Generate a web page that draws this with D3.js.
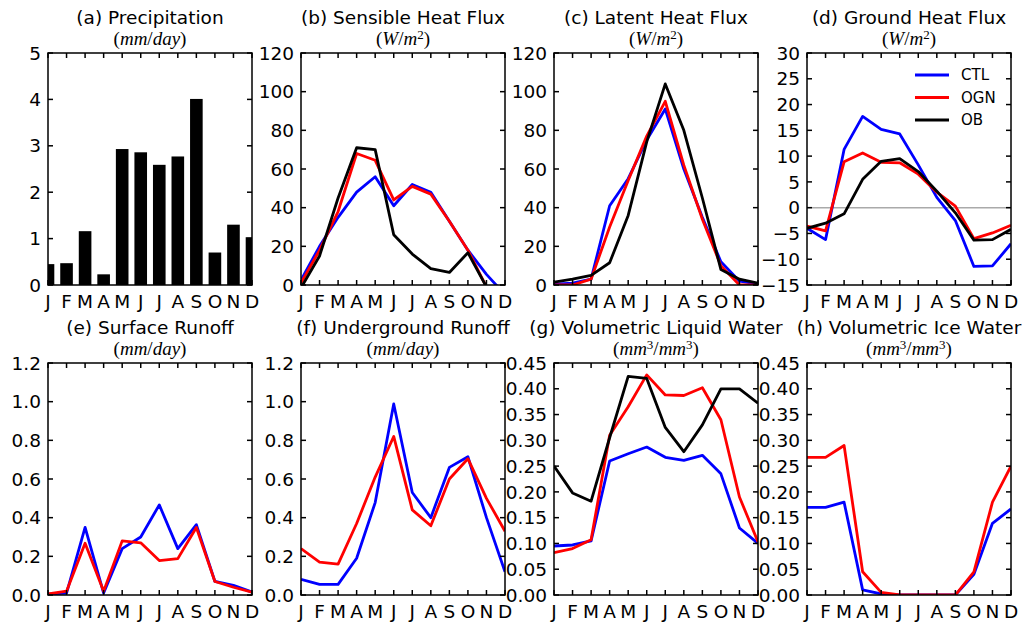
<!DOCTYPE html>
<html>
<head>
<meta charset="utf-8">
<script src="https://d3js.org/d3.v7.min.js"></script>
<style>
 body {margin:0; background:#fff;}
 svg {display:block;}
 text {font-family: "DejaVu Sans", sans-serif; fill:#000;}
</style>
<title>Monthly land surface fields</title>
</head>
<body>
<div id="contenedor"></div>
<script>
var months = ["J","F","M","A","M","J","J","A","S","O","N","D"];

var precip = [0.45,0.47,1.16,0.23,2.93,2.86,2.59,2.77,4.01,0.70,1.30,1.03];

var sensCTL = [2.5,20,35,48,56,41,52,48,33,18,5.5,-5];
var sensOGN = [1,18,38,68,64.5,44,51,47,33,18,-1,-3];
var sensOB  = [-1.5,15,45,71,70,26,16,8.5,6.5,16.7,-1,-2];

var latCTL = [0.5,1,3,41,55,75,91,60,35,12,2,0.5];
var latOGN = [0,0,3,30,54,77,95,62,34,10,0,0];
var latOB  = [1.5,3,5,11.5,36,74,104,80,45,8,3,1];

var grdCTL = [-4,-6.2,11.3,17.7,15.2,14.3,8.3,2,-2.5,-11.4,-11.3,-7];
var grdOGN = [-3.6,-4.5,8.9,10.6,8.8,8.7,6.5,3,0.3,-6,-4.9,-3.4];
var grdOB  = [-4,-3,-1.2,5.5,9,9.5,7,3.2,-1,-6.3,-6.2,-4.2];

var srfCTL = [0.005,0.01,0.35,0.01,0.24,0.30,0.466,0.24,0.364,0.07,0.05,0.015];
var srfOGN = [0.005,0.02,0.268,0.02,0.28,0.27,0.178,0.188,0.349,0.07,0.04,0.015];

var subCTL = [0.081,0.055,0.055,0.19,0.478,0.988,0.53,0.40,0.66,0.715,0.40,0.12];
var subOGN = [0.24,0.17,0.16,0.37,0.61,0.82,0.44,0.358,0.60,0.705,0.50,0.33];

var liqCTL = [0.095,0.097,0.105,0.26,0.274,0.287,0.267,0.261,0.271,0.235,0.13,0.10];
var liqOGN = [0.082,0.09,0.107,0.31,0.365,0.427,0.388,0.387,0.402,0.34,0.19,0.103];
var liqOB  = [0.25,0.198,0.182,0.305,0.424,0.42,0.325,0.278,0.33,0.40,0.40,0.372];

var iceCTL = [0.17,0.17,0.18,0.01,0.002,0,0,0,0,0.04,0.139,0.167];
var iceOGN = [0.267,0.267,0.29,0.045,0.005,0,0,0,0,0.045,0.18,0.25];

var colores = {CTL:"#0000ff", OGN:"#ff0000", OB:"#000000"};

var panels = [
 {title:"(a) Precipitation", unit:"mm/day", y:[0,5], step:1, fmt:d3.format("d"), bars:precip},
 {title:"(b) Sensible Heat Flux", unit:"W/m^2", y:[0,120], step:20, fmt:d3.format("d"),
  series:[["CTL",sensCTL],["OGN",sensOGN],["OB",sensOB]]},
 {title:"(c) Latent Heat Flux", unit:"W/m^2", y:[0,120], step:20, fmt:d3.format("d"),
  series:[["CTL",latCTL],["OGN",latOGN],["OB",latOB]]},
 {title:"(d) Ground Heat Flux", unit:"W/m^2", y:[-15,30], step:5, fmt:d3.format("d"), zero:true, legend:true,
  series:[["CTL",grdCTL],["OGN",grdOGN],["OB",grdOB]]},
 {title:"(e) Surface Runoff", unit:"mm/day", y:[0,1.2], step:0.2, fmt:d3.format(".1f"),
  series:[["CTL",srfCTL],["OGN",srfOGN]]},
 {title:"(f) Underground Runoff", unit:"mm/day", y:[0,1.2], step:0.2, fmt:d3.format(".1f"),
  series:[["CTL",subCTL],["OGN",subOGN]]},
 {title:"(g) Volumetric Liquid Water", unit:"mm^3/mm^3", y:[0,0.45], step:0.05, fmt:d3.format(".2f"),
  series:[["CTL",liqCTL],["OGN",liqOGN],["OB",liqOB]]},
 {title:"(h) Volumetric Ice Water", unit:"mm^3/mm^3", y:[0,0.45], step:0.05, fmt:d3.format(".2f"),
  series:[["CTL",iceCTL],["OGN",iceOGN]]}
];

var width = 1026, height = 626;
var lefts = [48, 301, 554, 807], tops = [53, 363];
var pw = 204, ph = 232, tick = 5;

var svg = d3.select("#contenedor").append("svg")
  .attr("width", width).attr("height", height);

// "(mm^3/mm^3)" -> italic letters, raised digits, upright brackets and slash
function unidad(sel, str) {
  sel.append("tspan").attr("font-style","normal").text("(");
  str.split("/").forEach(function(part, i) {
    if (i > 0) sel.append("tspan").attr("font-style","normal").text("/");
    var m = part.split("^");
    sel.append("tspan").attr("font-style","italic").text(m[0]);
    if (m[1]) sel.append("tspan").attr("font-style","normal").attr("font-size","13px")
                 .attr("baseline-shift","6").text(m[1]);
  });
  sel.append("tspan").attr("font-style","normal").text(")");
}

panels.forEach(function(p, k) {
  var x0 = lefts[k % 4], y0 = tops[Math.floor(k / 4)];
  var g = svg.append("g").attr("transform","translate(" + x0 + "," + y0 + ")");

  var x = d3.scaleLinear().domain([0, 11]).range([0, pw]);
  var y = d3.scaleLinear().domain(p.y).range([ph, 0]);
  var yt = d3.range(p.y[0], p.y[1] + p.step / 2, p.step).map(function(v){ return +v.toFixed(4); });

  var clipId = "clip" + k;
  g.append("clipPath").attr("id", clipId).append("rect")
    .attr("width", pw).attr("height", ph);
  var plot = g.append("g").attr("clip-path","url(#" + clipId + ")");

  if (p.zero) {
    plot.append("line").attr("x1",0).attr("x2",pw).attr("y1",y(0)).attr("y2",y(0))
      .attr("stroke","#aaaaaa").attr("stroke-width",1.5);
  }

  if (p.bars) {
    var bw = (x(1) - x(0)) * 0.68;
    plot.selectAll("rect.bar").data(p.bars).enter().append("rect")
      .attr("class","bar")
      .attr("x", function(d, i){ return x(i) - bw / 2; })
      .attr("y", function(d){ return y(d); })
      .attr("width", bw)
      .attr("height", function(d){ return y(0) - y(d); })
      .attr("fill","#000");
  }

  if (p.series) {
    var line = d3.line().x(function(d, i){ return x(i); }).y(function(d){ return y(d); });
    p.series.forEach(function(s) {
      plot.append("path").datum(s[1]).attr("d", line)
        .attr("fill","none").attr("stroke", colores[s[0]])
        .attr("stroke-width", 2.8).attr("stroke-linejoin","round");
    });
  }

  // frame + inward ticks on all four sides
  g.append("rect").attr("width", pw).attr("height", ph)
    .attr("fill","none").attr("stroke","#000").attr("stroke-width",1.5);
  yt.forEach(function(v) {
    g.append("line").attr("x1",0).attr("x2",tick).attr("y1",y(v)).attr("y2",y(v)).attr("stroke","#000").attr("stroke-width",1.5);
    g.append("line").attr("x1",pw-tick).attr("x2",pw).attr("y1",y(v)).attr("y2",y(v)).attr("stroke","#000").attr("stroke-width",1.5);
  });
  months.forEach(function(m, i) {
    g.append("line").attr("x1",x(i)).attr("x2",x(i)).attr("y1",0).attr("y2",tick).attr("stroke","#000").attr("stroke-width",1.5);
    g.append("line").attr("x1",x(i)).attr("x2",x(i)).attr("y1",ph-tick).attr("y2",ph).attr("stroke","#000").attr("stroke-width",1.5);
  });

  g.selectAll("text.yt").data(yt).enter().append("text")
    .attr("class","yt")
    .attr("x", -7).attr("y", function(d){ return y(d); })
    .attr("dy","0.36em").attr("text-anchor","end")
    .attr("font-size","18.5px")
    .text(function(d){ return p.fmt(d); });

  g.selectAll("text.xt").data(months).enter().append("text")
    .attr("class","xt")
    .attr("x", function(d, i){ return x(i); }).attr("y", ph + 23)
    .attr("text-anchor","middle").attr("font-size","18.5px")
    .text(function(d){ return d; });

  g.append("text").attr("x", pw / 2).attr("y", -29)
    .attr("text-anchor","middle").attr("font-size","18.5px")
    .text(p.title);

  g.append("text").attr("x", pw / 2).attr("y", -8)
    .attr("text-anchor","middle").attr("font-size","19px")
    .style("font-family","'Liberation Serif', serif")
    .call(unidad, p.unit);

  if (p.legend) {
    var lg = g.append("g").attr("transform","translate(" + (pw - 96) + ",22)");
    p.series.forEach(function(s, i) {
      lg.append("line").attr("x1",0).attr("x2",34).attr("y1",i * 22.5).attr("y2",i * 22.5)
        .attr("stroke", colores[s[0]]).attr("stroke-width",2.8);
      lg.append("text").attr("x",46).attr("y",i * 22.5).attr("dy","0.36em")
        .attr("font-size","15px").text(s[0]);
    });
  }
});
</script>
</body>
</html>
